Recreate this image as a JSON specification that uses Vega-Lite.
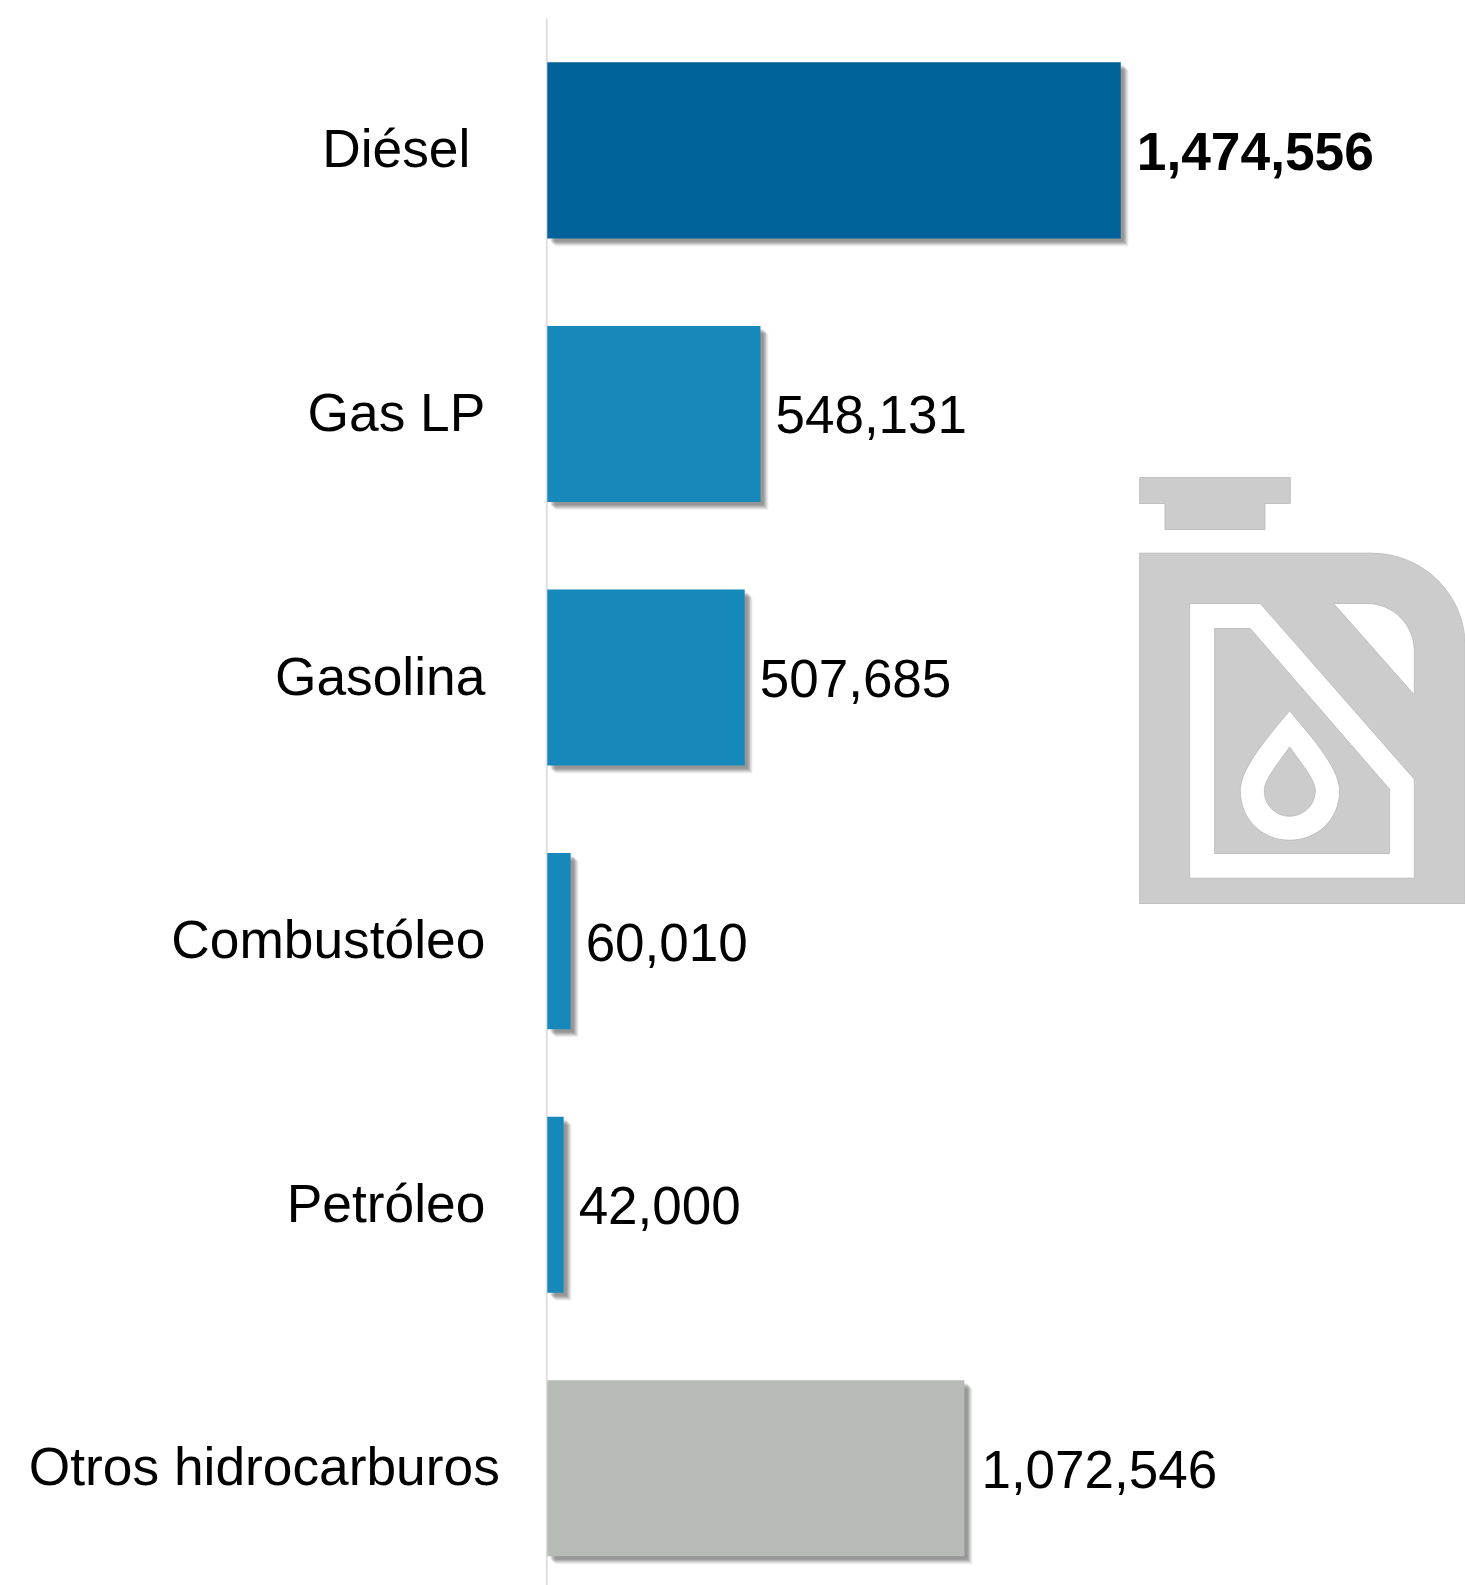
{
"$schema":"https://vega.github.io/schema/vega-lite/v6.json",
"width":917.7,"height":1567,
"autosize":{"type":"none"},
"padding":{"left":547.3,"top":18,"right":0,"bottom":0},
"background":"#ffffff",
"config":{"view":{"stroke":null},"font":"Liberation Sans"},
"datasets":{
"bars":[
{"combustible":"Diésel","volumen":1474556},
{"combustible":"Gas LP","volumen":548131},
{"combustible":"Gasolina","volumen":507685},
{"combustible":"Combustóleo","volumen":60010},
{"combustible":"Petróleo","volumen":42000},
{"combustible":"Otros hidrocarburos","volumen":1072546}],
"icono":[{"combustible":"Gasolina","volumen":1941300}]
},
"data":{"name":"bars"},
"encoding":{
"y":{"field":"combustible","type":"nominal","sort":null,
"scale":{"paddingInner":0.332,"paddingOuter":0.1385,"align":0.607},
"axis":{"title":null,"ticks":false,"grid":false,"labels":false,"offset":1,"domainColor":"#e0e0e0","domainWidth":2}},
"x":{"field":"volumen","type":"quantitative","scale":{"domain":[0,2359700],"nice":false,"zero":true},"axis":null}
},
"layer":[
{"mark":{"type":"bar","color":"#000000","opacity":0.05,"xOffset":8,"yOffset":8}},
{"mark":{"type":"bar","color":"#000000","opacity":0.07,"xOffset":7,"yOffset":7}},
{"mark":{"type":"bar","color":"#000000","opacity":0.09,"xOffset":6,"yOffset":6}},
{"mark":{"type":"bar","color":"#000000","opacity":0.1,"xOffset":5,"yOffset":5}},
{"mark":{"type":"bar","color":"#000000","opacity":0.1,"xOffset":4,"yOffset":4}},
{"mark":{"type":"bar","color":"#000000","opacity":0.08,"xOffset":3,"yOffset":3}},
{"mark":{"type":"bar"},
 "encoding":{"color":{"field":"combustible","type":"nominal","legend":null,
 "scale":{"domain":["Diésel","Gas LP","Gasolina","Combustóleo","Petróleo","Otros hidrocarburos"],"range":["#006299","#1689ba","#1689ba","#1689ba","#1689ba","#b6bbb5"]}}}},
{"transform":[{"filter":"datum.combustible==='Diésel'"}],
 "mark":{"type":"text","align":"right","baseline":"middle","dx":-77,"dy":1,"font":"Liberation Sans","fontSize":53.3,"color":"#000000"},
 "encoding":{"x":{"datum":0},"text":{"field":"combustible","type":"nominal"}}},
{"transform":[{"filter":"datum.combustible!=='Diésel' && datum.combustible!=='Otros hidrocarburos'"}],
 "mark":{"type":"text","align":"right","baseline":"middle","dx":-62,"dy":1,"font":"Liberation Sans","fontSize":53.3,"color":"#000000"},
 "encoding":{"x":{"datum":0},"text":{"field":"combustible","type":"nominal"}}},
{"transform":[{"filter":"datum.combustible==='Otros hidrocarburos'"}],
 "mark":{"type":"text","align":"right","baseline":"middle","dx":-47.5,"dy":1,"font":"Liberation Sans","fontSize":53.3,"color":"#000000"},
 "encoding":{"x":{"datum":0},"text":{"field":"combustible","type":"nominal"}}},
{"transform":[{"filter":"datum.combustible==='Diésel'"}],
 "mark":{"type":"text","align":"left","baseline":"middle","dx":16,"dy":4,"font":"Liberation Sans","fontSize":53.3,"fontWeight":"bold","color":"#000000"},
 "encoding":{"text":{"field":"volumen","type":"quantitative","format":","}}},
{"transform":[{"filter":"datum.combustible!=='Diésel' && datum.combustible!=='Otros hidrocarburos'"}],
 "mark":{"type":"text","align":"left","baseline":"middle","dx":15,"dy":3.5,"font":"Liberation Sans","fontSize":53,"color":"#000000"},
 "encoding":{"text":{"field":"volumen","type":"quantitative","format":","}}},
{"transform":[{"filter":"datum.combustible==='Otros hidrocarburos'"}],
 "mark":{"type":"text","align":"left","baseline":"middle","dx":17,"dy":3.5,"font":"Liberation Sans","fontSize":53,"color":"#000000"},
 "encoding":{"text":{"field":"volumen","type":"quantitative","format":","}}},
{"data":{"name":"icono"},
 "mark":{"type":"point","filled":true,"opacity":1,"size":181476,"yOffset":13,"fill":"#cccccc","stroke":"#b8b8b8","strokeWidth":0.8,
 "shape":"M-.7637,-1 L-.0563,-1 L-.0563,-.8779 L-.1753,-.8779 L-.1753,-.7559 L-.6448,-.7559 L-.6448,-.8779 L-.7637,-.8779 Z M-.7637,-.6448 L.3271,-.6448 C.5696,-.6448 .7653,-.4491 .7653,-.2066 L.7653,1 L-.7637,1 Z M-.529,-.4085 L-.529,.8811 L.5258,.8811 L.5258,.4163 L-.1972,-.4085 Z M.1471,-.4085 L.5258,.0203 L.5258,-.1862 C.5258,-.3083 .4257,-.4085 .3036,-.4085 Z M-.4116,-.2911 L-.2441,-.2911 L.41,.4632 L.41,.7653 L-.4116,.7653 Z M-.0595,.0955 C-.1502,.205 -.2911,.3615 -.2911,.471 C-.2911,.6041 -.1894,.7027 -.0595,.7027 C.072,.7027 .1753,.6041 .1753,.471 C.1753,.3615 .0313,.205 -.0595,.0955 Z M-.0595,.2645 C-.0094,.338 .061,.4163 .061,.471 C.061,.5383 .0063,.59 -.0595,.59 C-.1252,.59 -.1784,.5383 -.1784,.471 C-.1784,.4163 -.1095,.338 -.0595,.2645 Z"}}
]
}
